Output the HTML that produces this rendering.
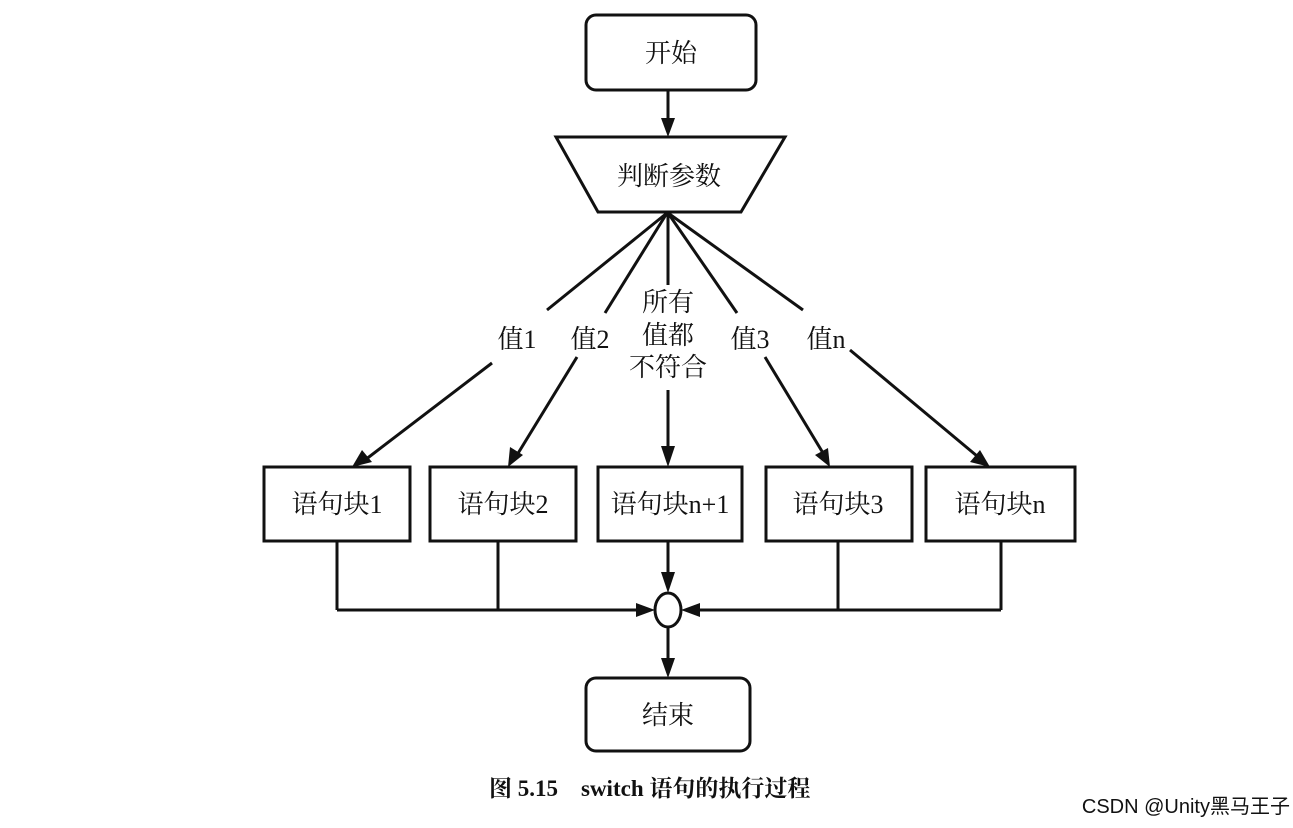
<!DOCTYPE html>
<html><head><meta charset="utf-8"><style>
html,body{margin:0;padding:0;background:#fff;}
svg{display:block;}
text{font-family:"Liberation Serif","Noto Serif CJK SC","Noto Sans CJK SC",serif;fill:#111;}
</style></head><body>
<svg width="1293" height="828" viewBox="0 0 1293 828" xmlns="http://www.w3.org/2000/svg">
<defs>
<marker id="a" markerWidth="10" markerHeight="10" refX="9" refY="5" orient="auto" markerUnits="userSpaceOnUse" viewBox="0 0 10 10">
</marker>
</defs>
<g stroke="#111" stroke-width="3" fill="none">
<rect x="586" y="15" width="170" height="75" rx="10"/>
<polygon points="556,137 785,137 741,212 598,212" fill="#fff"/>
<rect x="264" y="467" width="146" height="74"/>
<rect x="430" y="467" width="146" height="74"/>
<rect x="598" y="467" width="144" height="74"/>
<rect x="766" y="467" width="146" height="74"/>
<rect x="926" y="467" width="149" height="74"/>
<rect x="586" y="678" width="164" height="73" rx="10"/>
<ellipse cx="668" cy="610" rx="13" ry="17"/>
<line x1="668" y1="90" x2="668" y2="122"/>
<!-- fan lines -->
<line x1="667" y1="213" x2="547" y2="310"/>
<line x1="492" y1="363" x2="365" y2="460"/>
<line x1="667" y1="213" x2="605" y2="313"/>
<line x1="577" y1="357" x2="517" y2="455"/>
<line x1="668" y1="213" x2="668" y2="285"/>
<line x1="668" y1="390" x2="668" y2="452"/>
<line x1="668" y1="213" x2="737" y2="313"/>
<line x1="765" y1="357" x2="823" y2="453"/>
<line x1="668" y1="213" x2="803" y2="310"/>
<line x1="850" y1="350" x2="977" y2="456"/>
<!-- bottom connectors -->
<line x1="337" y1="541" x2="337" y2="610"/>
<line x1="498" y1="541" x2="498" y2="610"/>
<line x1="337" y1="610" x2="643" y2="610"/>
<line x1="838" y1="541" x2="838" y2="610"/>
<line x1="1001" y1="541" x2="1001" y2="610"/>
<line x1="1001" y1="610" x2="693" y2="610"/>
<line x1="668" y1="541" x2="668" y2="578"/>
<line x1="668" y1="627" x2="668" y2="662"/>
</g>
<g fill="#111">
<polygon points="668,137 661,118 675,118"/>
<polygon points="668,467 661,446 675,446"/>
<polygon points="668,593 661,572 675,572"/>
<polygon points="668,678 661,658 675,658"/>
<polygon points="655,610 636,603 636,617"/>
<polygon points="681,610 700,603 700,617"/>
<!-- diagonal heads -->
<polygon points="352,467 362,450 372,462"/>
<polygon points="508,467 510,447 523,455"/>
<polygon points="830,467 815,455 828,448"/>
<polygon points="990,467 970,462 980,450"/>
</g>
<g font-size="26" text-anchor="middle">
<text x="671" y="62">开始</text>
<text x="669" y="185">判断参数</text>
<text x="337" y="513">语句块1</text>
<text x="503" y="513">语句块2</text>
<text x="670" y="513">语句块n+1</text>
<text x="838" y="513">语句块3</text>
<text x="1000" y="513">语句块n</text>
<text x="668" y="724">结束</text>
<text x="517" y="348">值1</text>
<text x="590" y="348">值2</text>
<text x="668" y="311">所有</text>
<text x="668" y="344">值都</text>
<text x="668" y="376">不符合</text>
<text x="750" y="348">值3</text>
<text x="826" y="348">值n</text>
</g>
<text x="489" y="796" font-size="23" font-weight="bold">图 5.15　switch 语句的执行过程</text>
<text x="1290" y="813" font-size="20" text-anchor="end" style="font-family:'Liberation Sans','Noto Sans CJK SC',sans-serif" fill="#bbb">CSDN @Unity黑马王子</text>
</svg>
</body></html>
